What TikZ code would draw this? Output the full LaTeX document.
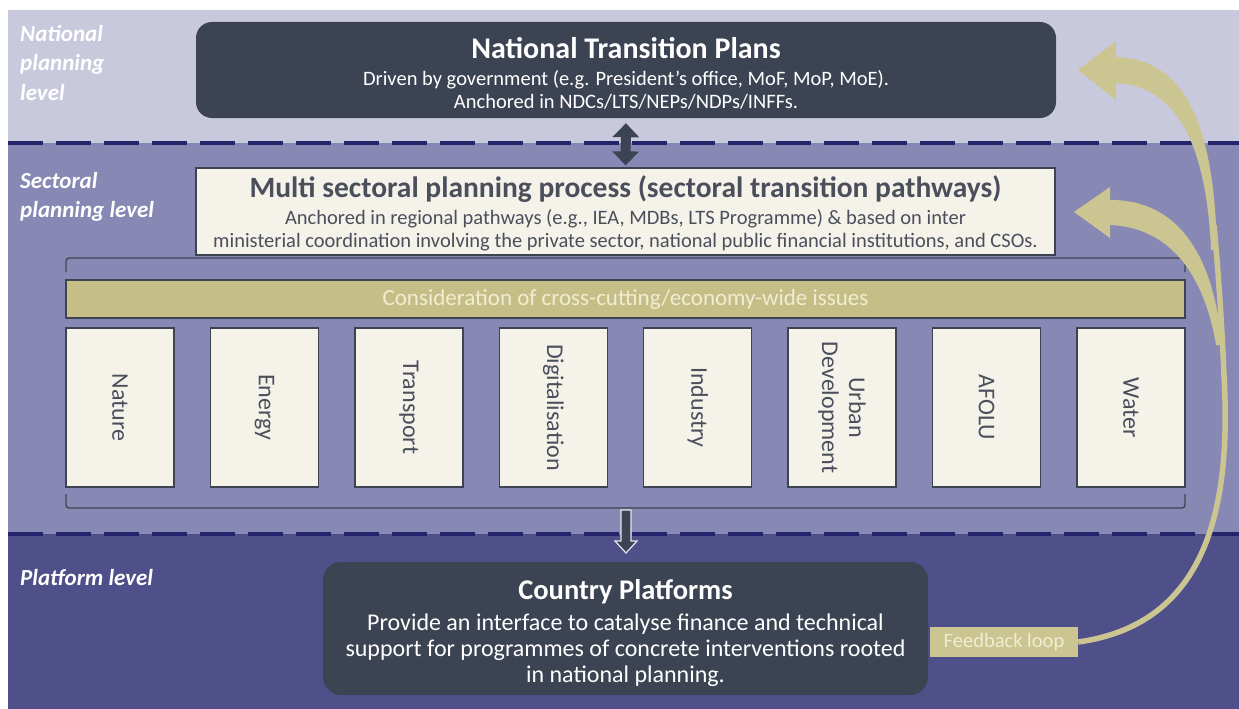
\documentclass[tikz,border=0pt]{standalone}
\usepackage{fontspec}
\setmainfont{Carlito}
\usetikzlibrary{arrows.meta,calc}
\definecolor{natband}{HTML}{C9C9DD}
\definecolor{secband}{HTML}{8888B4}
\definecolor{platband}{HTML}{4F4F89}
\definecolor{dashcol}{HTML}{24246C}
\definecolor{slate}{HTML}{3C4352}
\definecolor{cream}{HTML}{F5F2EA}
\definecolor{olive}{HTML}{C5BF87}
\definecolor{khaki}{HTML}{CBC592}
\definecolor{bartext}{HTML}{F1EDD2}
\definecolor{sectext}{HTML}{4A4F5B}
\definecolor{edgecol}{HTML}{3E4352}
\definecolor{outl}{HTML}{E6E6EE}
\newcommand\fsz[2]{\fontsize{#1}{#2}\selectfont}
\begin{document}
\begin{tikzpicture}[x=1pt,y=-1pt,
  levellabel/.style={anchor=north west, align=left, text=white, font=\fsz{23}{29.5}\bfseries\itshape, inner sep=0pt},
  darkbox/.style={fill=slate, rounded corners=16pt, inner sep=0pt},
  creambox/.style={fill=cream, draw=edgecol, line width=1.2pt, inner sep=0pt},
  titletext/.style={anchor=base, inner sep=0pt, font=\fsz{29.5}{32}\bfseries},
  subtext/.style={anchor=base, inner sep=0pt, font=\fsz{20.5}{24}},
  sectorbox/.style={fill=cream, draw=edgecol, line width=1.3pt, minimum width=159pt, minimum height=108pt, inner sep=0pt, text=sectext, font=\fsz{24}{27}, align=center, rotate=-90},
  dashline/.style={draw=dashcol, line width=3.5pt, dash pattern=on 35pt off 13pt},
  bracketline/.style={draw=edgecol, line width=1.3pt, rounded corners=3pt},
  loopfill/.style={fill=khaki, draw=none},
]
\useasboundingbox (0,0) rectangle (1239,709);
% bands
\fill[natband] (8,10) rectangle (1239,143);
\fill[secband] (8,143) rectangle (1239,534);
\fill[platband] (8,534) rectangle (1239,709);
\draw[dashline] (8,143) -- (1239,143);
\draw[dashline] (8,534) -- (1239,534);
% level labels
\node[levellabel] (lnat) at (20,25) {National\\planning\\level};
\node[levellabel] (lsec) at (20,172) {Sectoral\\planning level};
\node[levellabel] (lplat) at (20,569) {Platform level};
% national transition plans
\node[darkbox, minimum width=860pt, minimum height=96pt] (ntp) at (626,70) {};
\node[titletext, text=white, font=\fsz{30}{32}\bfseries] (ntpt) at (626,59) {National Transition Plans};
\node[subtext, text=white] (ntps1) at (626,85) {Driven by government (e.g. President's office, MoF, MoP, MoE).};
\node[subtext, text=white] (ntps2) at (626,108) {Anchored in NDCs/LTS/NEPs/NDPs/INFFs.};
% multi sectoral
\node[creambox, minimum width=859pt, minimum height=87pt] (msp) at (625.5,211.5) {};
\node[titletext, text=sectext] (mspt) at (625.5,197) {Multi sectoral planning process (sectoral transition pathways)};
\node[subtext, text=sectext] (msps1) at (625.5,224) {Anchored in regional pathways (e.g., IEA, MDBs, LTS Programme) \& based on inter};
\node[subtext, text=sectext] (msps2) at (625.5,247) {ministerial coordination involving the private sector, national public financial institutions, and CSOs.};
% double arrow
\draw[slate, line width=10pt, {Triangle[width=26pt,length=14pt]}-{Triangle[width=26pt,length=14pt]}, shorten <=5pt, shorten >=2pt] (ntp.south) -- (msp.north);
% brackets
\coordinate (brtl) at (66,258);
\coordinate (brtr) at (1185,258);
\coordinate (brbl) at (66,508);
\coordinate (brbr) at (1185,508);
\draw[bracketline] ($(brtl)+(0,14)$) -- (brtl) -- (brtr) -- ($(brtr)+(0,14)$);
\draw[bracketline] ($(brbl)+(0,-14)$) -- (brbl) -- (brbr) -- ($(brbr)+(0,-14)$);
% cross-cutting bar
\node[fill=olive, draw=edgecol, line width=1.3pt, minimum width=1119pt, minimum height=38pt, inner sep=0pt, text=bartext, font=\fsz{23}{26}] (bar) at (625.5,299) {Consideration of cross-cutting/economy-wide issues};
% sectors
\node[sectorbox] (s1) at (120,407.5) {Nature};
\node[sectorbox] (s2) at (264.4,407.5) {Energy};
\node[sectorbox] (s3) at (408.9,407.5) {Transport};
\node[sectorbox] (s4) at (553.3,407.5) {Digitalisation};
\node[sectorbox] (s5) at (697.7,407.5) {Industry};
\node[sectorbox] (s6) at (842.1,407.5) {Urban\\Development};
\node[sectorbox] (s7) at (986.6,407.5) {AFOLU};
\node[sectorbox] (s8) at (1131,407.5) {Water};
% country platforms
\node[darkbox, rounded corners=18pt, minimum width=605pt, minimum height=133pt] (cp) at (625.5,628.5) {};
\node[titletext, text=white, font=\fsz{28.5}{32}\bfseries] (cpt) at (625.5,599) {Country Platforms};
\node[subtext, text=white, font=\fsz{24}{26}] (cps1) at (625.5,630) {Provide an interface to catalyse finance and technical};
\node[subtext, text=white, font=\fsz{24}{26}] (cps2) at (625.5,656) {support for programmes of concrete interventions rooted};
\node[subtext, text=white, font=\fsz{24}{26}] (cps3) at (625.5,682) {in national planning.};
% down arrow
\coordinate (dtop) at (626,510);
\draw[fill=slate, draw=outl, line width=1.2pt, shift={(dtop)}] (-5,0) -- (5,0) -- (5,31) -- (11,31) -- (0,43) -- (-11,31) -- (-5,31) -- cycle;
% feedback loop
\node[fill=khaki!95!olive, minimum width=148pt, minimum height=30pt, inner sep=0pt, text=bartext, font=\fsz{20.5}{22}] (fb) at (1004,642) {Feedback loop};
\coordinate (tipA) at (1078,70);
\coordinate (tipB) at (1074,212);
\draw[khaki, line width=5.5pt] (fb.east) .. controls (1200,625) and (1228,520) .. (1225,400) .. controls (1222,320) and (1218,270) .. (1214,225);
\fill[loopfill] (1112,57) .. controls (1178,57) and (1214,110) .. (1217,250) -- (1211,250) .. controls (1206,130) and (1168,83) .. (1112,83) -- cycle;
\fill[loopfill] (tipA) -- ++(38,-29) -- ++(0,59) -- cycle;
\fill[loopfill] (1106,200) .. controls (1168,198) and (1212,240) .. (1222,345) -- (1216,345) .. controls (1202,262) and (1160,225) .. (1106,225) -- cycle;
\fill[loopfill] (tipB) -- ++(36,-25) -- ++(0,51) -- cycle;
\end{tikzpicture}
\end{document}
